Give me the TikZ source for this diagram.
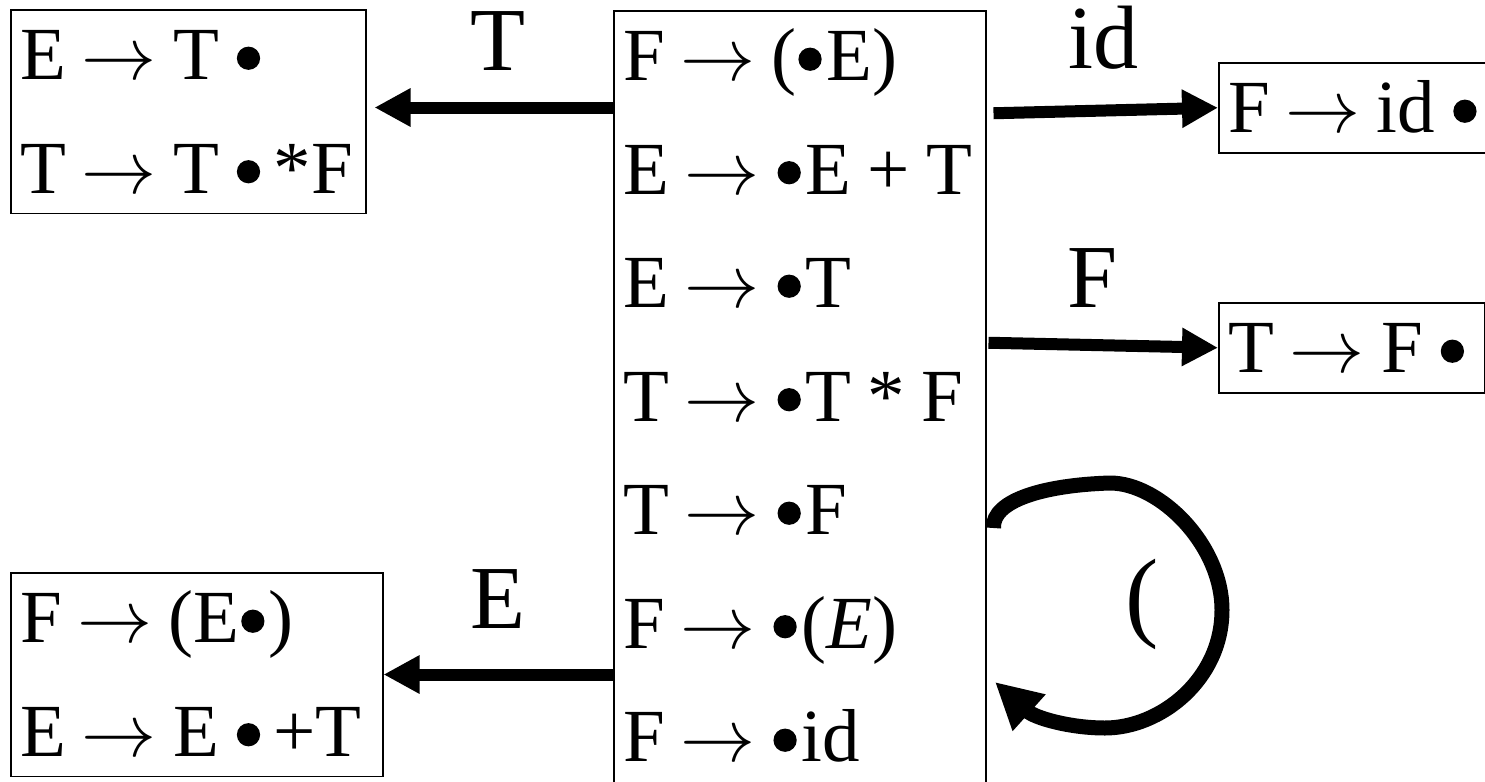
\RequirePackage{fix-cm}
\documentclass[tikz,border=0pt]{standalone}
\usepackage{fontspec}
\setmainfont{Liberation Serif}
\usetikzlibrary{arrows.meta}
\newcommand{\bul}{\kern0.02em\tikz[baseline=-0.287em]\fill (0,0) circle (0.155em);\kern0.06em}
\newcommand{\rowstrut}{\rule[-10pt]{0pt}{45pt}}
\newcommand{\ar}{\kern0.2em$\rightarrow$\kern0.22em}
\newcommand{\gap}{\kern0.22em}

\begin{document}
\begin{tikzpicture}[x=0.5pt, y=-0.5pt,
  item/.style={rectangle, draw, line width=0.75pt, inner xsep=5pt, inner ysep=0pt, align=left, anchor=north west, font=\fontsize{37.5pt}{56.75pt}\selectfont},
  trans/.style={draw, line width=6pt, -{Triangle[length=18pt,width=18pt]}},
  loopy/.style={draw, line width=7.5pt, -{Triangle[length=23pt,width=23pt]}},
  lbl/.style={inner sep=0pt, font=\fontsize{45pt}{45pt}\selectfont}]
  \useasboundingbox (0,0) rectangle (1485,782);

  % item sets
  \node [item, text width=176pt] (kernel) at (613,10) {\rowstrut F\ar(\bul E)\\
    \rowstrut E\ar\bul E\gap+\gap T\\
    \rowstrut E\ar\bul T\\
    \rowstrut T\ar\bul T\gap*\gap F\\
    \rowstrut T\ar\bul F\\
    \rowstrut F\ar\bul(\textit{E})\\
    \rowstrut F\ar\bul id\rule[-25pt]{0pt}{25pt}};
  \node [item, text width=167.5pt] (gotoT) at (10,9) {\rowstrut E\ar T\gap\bul\\
    \rowstrut T\ar T\gap\bul\kern0.12em*F};
  \node [item, text width=176pt] (gotoE) at (10,572) {\rowstrut F\ar(E\bul)\\
    \rowstrut E\ar E\gap\bul\kern0.12em+T};
  \node [item, text width=126pt] (gotoid) at (1218,62) {\rowstrut F\ar id\gap\bul};
  \node [item, text width=123pt] (gotoF) at (1218,302) {\rowstrut T\ar F\gap\bul};

  % transitions
  \draw [trans, shorten >=4pt] ([yshift=2pt]kernel.west |- gotoT.east) -- node [lbl, above=15.5pt, pos=0.468] {T} ([yshift=2pt]gotoT.east);
  \draw [trans] (kernel.west |- gotoE.east) -- node [lbl, above=20pt, pos=0.5] {E} (gotoE.east);
  \draw [trans] ([xshift=3.5pt,yshift=-2.75pt]kernel.east |- gotoid.west) -- node [lbl, above=17.5pt, pos=0.49] {id} (gotoid.west);
  \draw [trans] ([xshift=1pt,yshift=2.5pt]kernel.east |- gotoF.west) -- node [lbl, above=16pt, pos=0.455] {F} (gotoF.west);

  % self loop on (
  \coordinate (ls) at ([xshift=3.5pt]kernel.east |- 0,528);
  \coordinate (le) at (995,682);
  \draw [loopy] (ls) .. controls (992,500) and (1045,485) .. (1110,483)
    .. controls (1160,483) and (1222,545) .. (1222,610)
    .. controls (1222,680) and (1160,728) .. (1105,728)
    .. controls (1070,728) and (1035,718) .. (le);
  \node [lbl, font=\fontsize{50pt}{50pt}\selectfont, anchor=base] (paren) at (1142,628) {(};
\end{tikzpicture}
\end{document}
